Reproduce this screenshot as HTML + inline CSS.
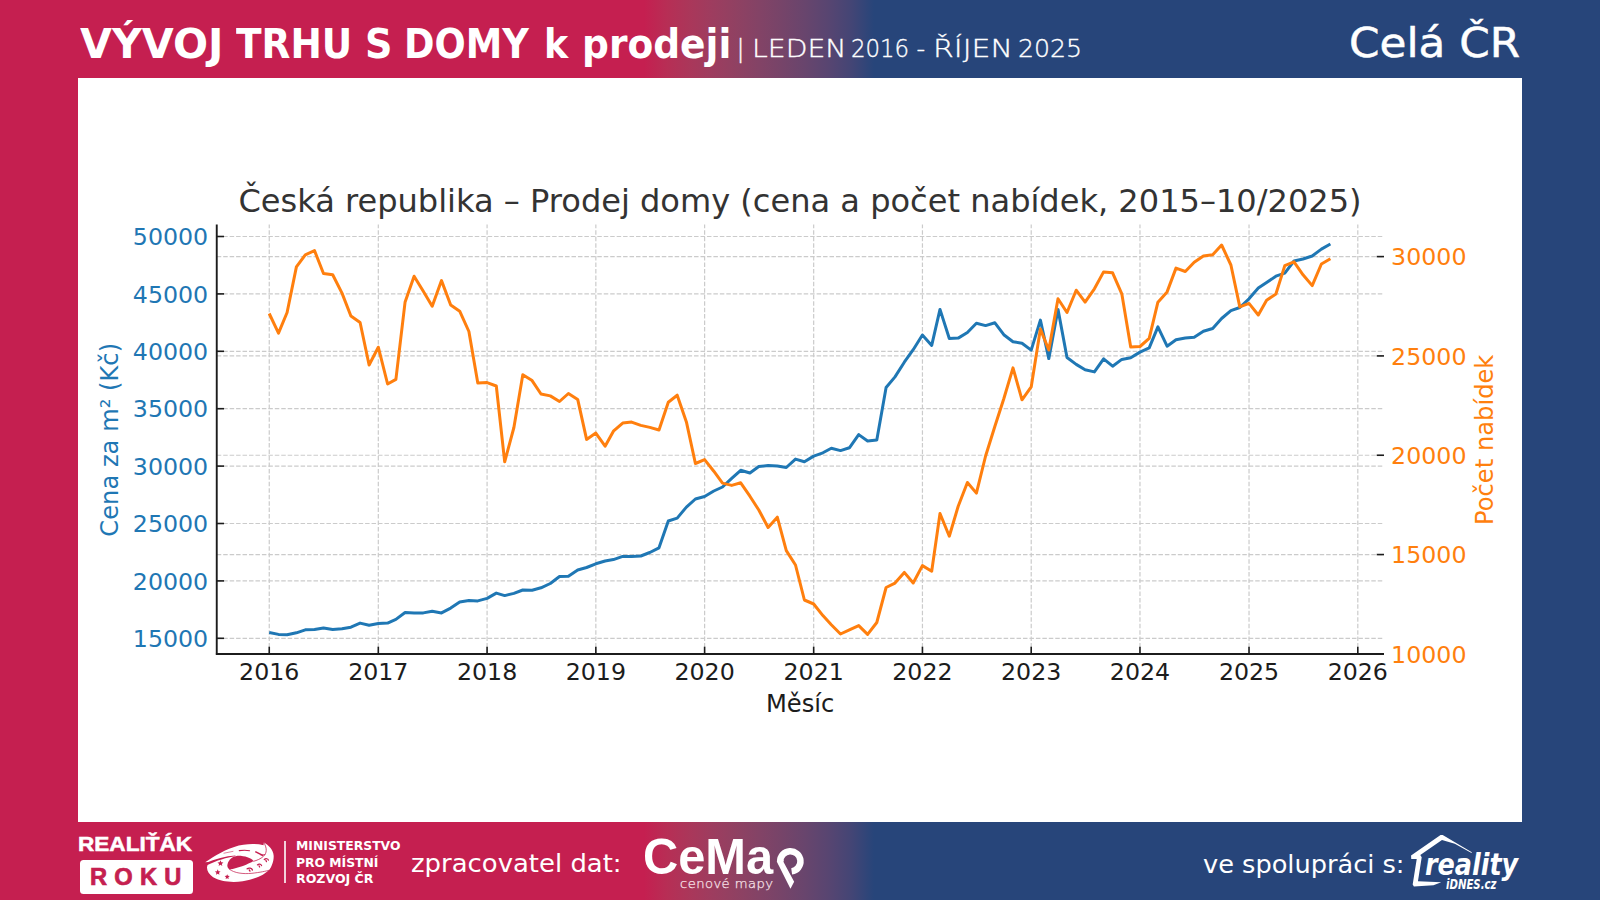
<!DOCTYPE html>
<html lang="cs">
<head>
<meta charset="utf-8">
<title>Vývoj trhu s domy k prodeji – Celá ČR</title>
<style>
html,body{margin:0;padding:0;}
body{width:1600px;height:900px;overflow:hidden;position:relative;
  background:linear-gradient(90deg,#c51f50 0px,#c51f50 644px,#b72e55 667px,#aa375a 690px,#9d3d5f 713px,#904162 736px,#834366 759px,#764469 782px,#68456d 805px,#584571 828px,#444575 851px,#27457a 874px,#27457a 1600px);
  font-family:"Liberation Sans","DejaVu Sans",sans-serif;color:#fff;}
.abs{position:absolute;white-space:nowrap;line-height:1;transform-origin:0 0;}
#panel{position:absolute;left:78px;top:78px;width:1444px;height:744px;background:#fff;}
#chart{position:absolute;left:0;top:0;}
#roku{left:79.5px;top:860px;width:113.5px;height:33.5px;background:#fff;border-radius:3.5px;}
#vline{position:absolute;left:284.4px;top:841px;width:1.5px;height:42px;background:#f3d0da;}
svg.ico{position:absolute;left:0;top:0;overflow:visible;}
</style>
</head>
<body>
<div id="panel"></div>
<svg id="chart" width="1600" height="900" viewBox="0 0 1600 900" font-family="'DejaVu Sans', 'Liberation Sans', sans-serif">
<g stroke="#cbcbcb" stroke-width="1.2" stroke-dasharray="4.5 1.95" fill="none">
<path d="M269.25 654.0 V224.5"/>
<path d="M378.31 654.0 V224.5"/>
<path d="M487.08 654.0 V224.5"/>
<path d="M595.84 654.0 V224.5"/>
<path d="M704.61 654.0 V224.5"/>
<path d="M813.67 654.0 V224.5"/>
<path d="M922.44 654.0 V224.5"/>
<path d="M1031.21 654.0 V224.5"/>
<path d="M1139.97 654.0 V224.5"/>
<path d="M1249.03 654.0 V224.5"/>
<path d="M1357.80 654.0 V224.5"/>
<path d="M216.75 236.50 H1384.0"/>
<path d="M216.75 293.90 H1384.0"/>
<path d="M216.75 351.30 H1384.0"/>
<path d="M216.75 408.70 H1384.0"/>
<path d="M216.75 466.10 H1384.0"/>
<path d="M216.75 523.50 H1384.0"/>
<path d="M216.75 580.90 H1384.0"/>
<path d="M216.75 638.30 H1384.0"/>
<path d="M216.75 256.60 H1384.0"/>
<path d="M216.75 355.92 H1384.0"/>
<path d="M216.75 455.24 H1384.0"/>
<path d="M216.75 554.56 H1384.0"/>
</g>
<polyline points="269.2,632.5 278.5,634.4 287.1,634.8 296.4,632.8 305.3,629.8 314.5,629.4 323.5,627.9 332.7,629.4 342.0,628.8 350.9,627.2 360.1,623.1 369.1,625.2 378.3,623.5 387.6,623.1 395.9,619.4 405.1,612.5 414.1,613.1 423.3,612.9 432.2,611.2 441.5,612.9 450.7,608.1 459.7,602.0 468.9,600.6 477.8,600.9 487.1,598.4 496.3,593.1 504.7,595.6 513.9,593.4 522.8,590.0 532.1,590.2 541.0,587.8 550.3,583.5 559.5,576.5 568.4,576.2 577.7,570.0 586.6,567.5 595.8,563.8 605.1,561.0 613.4,559.6 622.7,556.4 631.6,556.5 640.8,556.0 649.8,552.5 659.0,547.8 668.3,521.0 677.2,518.1 686.4,507.1 695.4,499.0 704.6,496.5 713.8,491.0 722.5,487.0 731.7,478.4 740.7,470.3 749.9,473.0 758.8,466.5 768.1,465.6 777.3,466.0 786.3,467.5 795.5,459.1 804.4,461.8 813.7,456.1 822.9,452.8 831.3,448.2 840.5,450.6 849.4,447.8 858.7,434.6 867.6,441.0 876.8,440.0 886.1,387.5 895.0,376.9 904.3,362.2 913.2,349.7 922.4,335.0 931.7,345.4 940.0,309.4 949.3,338.5 958.2,338.1 967.4,332.5 976.4,323.2 985.6,325.6 994.9,322.8 1003.8,334.7 1013.0,341.8 1022.0,343.2 1031.2,350.1 1040.4,320.1 1048.8,358.6 1058.0,309.4 1067.0,357.5 1076.2,364.4 1085.1,369.8 1094.4,371.9 1103.6,358.8 1112.6,366.2 1121.8,359.4 1130.7,357.8 1140.0,352.1 1149.2,347.8 1157.9,326.9 1167.1,346.2 1176.0,339.8 1185.3,338.1 1194.2,337.2 1203.4,331.2 1212.7,328.5 1221.6,318.5 1230.9,310.6 1239.8,307.5 1249.0,298.8 1258.3,288.1 1266.6,282.5 1275.9,276.2 1284.8,273.1 1294.0,261.0 1303.0,259.0 1312.2,256.0 1321.4,249.1 1330.4,244.0" fill="none" stroke="#1f77b4" stroke-width="3.0" stroke-linejoin="round" stroke-linecap="butt"/>
<polyline points="269.2,313.5 278.5,333.1 287.1,312.5 296.4,266.9 305.3,254.8 314.5,250.6 323.5,273.5 332.7,274.8 342.0,293.1 350.9,316.0 360.1,322.5 369.1,365.0 378.3,347.2 387.6,384.0 395.9,379.4 405.1,301.9 414.1,276.2 423.3,291.2 432.2,306.2 441.5,280.6 450.7,305.0 459.7,311.2 468.9,331.5 477.8,383.1 487.1,382.6 496.3,386.0 504.7,461.8 513.9,427.5 522.8,374.8 532.1,380.6 541.0,394.0 550.3,395.9 559.5,401.5 568.4,393.5 577.7,399.4 586.6,439.4 595.8,433.1 605.1,446.2 613.4,431.2 622.7,423.1 631.6,422.1 640.8,425.4 649.8,427.4 659.0,430.0 668.3,402.2 677.2,395.2 686.4,421.9 695.4,463.5 704.6,459.6 713.8,471.2 722.5,483.1 731.7,485.4 740.7,482.8 749.9,496.2 758.8,510.0 768.1,527.5 777.3,517.2 786.3,550.6 795.5,565.0 804.4,600.0 813.7,604.0 822.9,615.6 831.3,624.8 840.5,634.0 849.4,629.8 858.7,625.6 867.6,634.4 876.8,622.5 886.1,587.5 895.0,583.1 904.3,572.4 913.2,583.0 922.4,565.6 931.7,571.2 940.0,513.5 949.3,536.2 958.2,506.2 967.4,482.5 976.4,493.1 985.6,456.0 994.9,426.2 1003.8,398.8 1013.0,367.9 1022.0,399.8 1031.2,386.9 1040.4,329.1 1048.8,350.0 1058.0,298.8 1067.0,312.5 1076.2,290.2 1085.1,302.1 1094.4,288.8 1103.6,271.9 1112.6,272.8 1121.8,293.8 1130.7,346.9 1140.0,346.5 1149.2,338.4 1157.9,302.2 1167.1,291.9 1176.0,268.1 1185.3,271.5 1194.2,262.2 1203.4,256.0 1212.7,254.8 1221.6,245.0 1230.9,265.0 1239.8,306.9 1249.0,303.4 1258.3,315.0 1266.6,300.2 1275.9,294.0 1284.8,265.6 1294.0,261.9 1303.0,274.8 1312.2,285.6 1321.4,264.0 1330.4,258.8" fill="none" stroke="#ff7f0e" stroke-width="3.0" stroke-linejoin="round" stroke-linecap="butt"/>
<g stroke="#1c1c1c" stroke-width="1.9" fill="none">
<path d="M216.75 224.5 V654.85"/>
<path d="M215.9 654.0 H1384.0"/>
</g>
<g stroke="#1c1c1c" stroke-width="1.6" fill="none">
<path d="M269.25 654.0 v-7.3"/>
<path d="M378.31 654.0 v-7.3"/>
<path d="M487.08 654.0 v-7.3"/>
<path d="M595.84 654.0 v-7.3"/>
<path d="M704.61 654.0 v-7.3"/>
<path d="M813.67 654.0 v-7.3"/>
<path d="M922.44 654.0 v-7.3"/>
<path d="M1031.21 654.0 v-7.3"/>
<path d="M1139.97 654.0 v-7.3"/>
<path d="M1249.03 654.0 v-7.3"/>
<path d="M1357.80 654.0 v-7.3"/>
<path d="M216.75 236.50 h7.3"/>
<path d="M216.75 293.90 h7.3"/>
<path d="M216.75 351.30 h7.3"/>
<path d="M216.75 408.70 h7.3"/>
<path d="M216.75 466.10 h7.3"/>
<path d="M216.75 523.50 h7.3"/>
<path d="M216.75 580.90 h7.3"/>
<path d="M216.75 638.30 h7.3"/>
<path d="M1384.0 256.60 h-7.3"/>
<path d="M1384.0 355.92 h-7.3"/>
<path d="M1384.0 455.24 h-7.3"/>
<path d="M1384.0 554.56 h-7.3"/>
<path d="M1384.0 653.88 h-7.3"/>
</g>
<g font-size="23.7" fill="#1f77b4" text-anchor="end">
<text x="208.2" y="245.20">50000</text>
<text x="208.2" y="302.60">45000</text>
<text x="208.2" y="360.00">40000</text>
<text x="208.2" y="417.40">35000</text>
<text x="208.2" y="474.80">30000</text>
<text x="208.2" y="532.20">25000</text>
<text x="208.2" y="589.60">20000</text>
<text x="208.2" y="647.00">15000</text>
</g>
<g font-size="23.7" fill="#ff7f0e" text-anchor="start">
<text x="1391.1" y="265.30">30000</text>
<text x="1391.1" y="364.62">25000</text>
<text x="1391.1" y="463.94">20000</text>
<text x="1391.1" y="563.26">15000</text>
<text x="1391.1" y="662.58">10000</text>
</g>
<g font-size="23.7" fill="#1c1c1c" text-anchor="middle">
<text x="269.25" y="679.6">2016</text>
<text x="378.31" y="679.6">2017</text>
<text x="487.08" y="679.6">2018</text>
<text x="595.84" y="679.6">2019</text>
<text x="704.61" y="679.6">2020</text>
<text x="813.67" y="679.6">2021</text>
<text x="922.44" y="679.6">2022</text>
<text x="1031.21" y="679.6">2023</text>
<text x="1139.97" y="679.6">2024</text>
<text x="1249.03" y="679.6">2025</text>
<text x="1357.80" y="679.6">2026</text>
<text x="800.2" y="711.5" font-size="24.2">Měsíc</text>
</g>
<text font-size="24.2" fill="#1f77b4" text-anchor="middle" transform="translate(118.2 439.8) rotate(-90)">Cena za m² (Kč)</text>
<text font-size="24.2" fill="#ff7f0e" text-anchor="middle" transform="translate(1493.2 439.8) rotate(-90)">Počet nabídek</text>
<text font-size="32.05" fill="#333" text-anchor="middle" x="800" y="212.4">Česká republika – Prodej domy (cena a počet nabídek, 2015–10/2025)</text>
</svg>
<div id="roku" class="abs"></div>
<div id="vline"></div>
<div id="title">
<div id="t1" class="abs" style="left:80.20px;top:22.80px;font-family:'DejaVu Sans Condensed','DejaVu Sans','Liberation Sans',sans-serif;font-weight:700;font-style:normal;font-size:41.7px;transform:scaleX(1.1009);">VÝVOJ</div>
<div id="t2" class="abs" style="left:236.40px;top:22.80px;font-family:'DejaVu Sans Condensed','DejaVu Sans','Liberation Sans',sans-serif;font-weight:700;font-style:normal;font-size:41.7px;transform:scaleX(0.9986);">TRHU</div>
<div id="t3" class="abs" style="left:365.47px;top:22.80px;font-family:'DejaVu Sans Condensed','DejaVu Sans','Liberation Sans',sans-serif;font-weight:700;font-style:normal;font-size:41.7px;transform:scaleX(1.0174);">S</div>
<div id="t4" class="abs" style="left:404.47px;top:22.80px;font-family:'DejaVu Sans Condensed','DejaVu Sans','Liberation Sans',sans-serif;font-weight:700;font-style:normal;font-size:41.7px;transform:scaleX(0.9781);">DOMY</div>
<div id="t5" class="abs" style="left:543.69px;top:22.80px;font-family:'DejaVu Sans Condensed','DejaVu Sans','Liberation Sans',sans-serif;font-weight:700;font-style:normal;font-size:41.7px;transform:scaleX(0.9696);">k</div>
<div id="t6" class="abs" style="left:581.90px;top:22.80px;font-family:'DejaVu Sans Condensed','DejaVu Sans','Liberation Sans',sans-serif;font-weight:700;font-style:normal;font-size:41.7px;transform:scaleX(1.0010);">prodeji</div>
</div>
<div id="sub">
<div id="s0" class="abs" style="left:736.40px;top:36.50px;font-family:'DejaVu Sans','Liberation Sans',sans-serif;font-weight:200;font-style:normal;font-size:24.0px;transform:scaleX(1.0000);-webkit-text-stroke:0.35px #fff;">|</div>
<div id="s1" class="abs" style="left:751.54px;top:36.50px;font-family:'DejaVu Sans','Liberation Sans',sans-serif;font-weight:200;font-style:normal;font-size:24.0px;transform:scaleX(1.1785);-webkit-text-stroke:0.35px #fff;">LEDEN</div>
<div id="s2" class="abs" style="left:850.75px;top:36.50px;font-family:'DejaVu Sans','Liberation Sans',sans-serif;font-weight:200;font-style:normal;font-size:24.0px;transform:scaleX(0.9522);-webkit-text-stroke:0.35px #fff;">2016</div>
<div id="s3" class="abs" style="left:916.40px;top:36.50px;font-family:'DejaVu Sans','Liberation Sans',sans-serif;font-weight:200;font-style:normal;font-size:24.0px;transform:scaleX(1.0000);-webkit-text-stroke:0.35px #fff;">-</div>
<div id="s4" class="abs" style="left:932.90px;top:36.50px;font-family:'DejaVu Sans','Liberation Sans',sans-serif;font-weight:200;font-style:normal;font-size:24.0px;transform:scaleX(1.2475);-webkit-text-stroke:0.35px #fff;">ŘÍJEN</div>
<div id="s5" class="abs" style="left:1017.65px;top:36.50px;font-family:'DejaVu Sans','Liberation Sans',sans-serif;font-weight:200;font-style:normal;font-size:24.0px;transform:scaleX(1.0483);-webkit-text-stroke:0.35px #fff;">2025</div>
</div>
<div id="region" class="abs" style="left:1348.50px;top:22.40px;font-family:'DejaVu Sans','Liberation Sans',sans-serif;font-weight:400;font-style:normal;font-size:41.6px;transform:scaleX(1.0504);-webkit-text-stroke:0.5px #fff;">Celá ČR</div>
<div id="realitak" class="abs" style="left:77.86px;top:835.10px;font-family:'Liberation Sans','DejaVu Sans',sans-serif;font-weight:700;font-style:normal;font-size:19.8px;transform:scaleX(1.1413);-webkit-text-stroke:0.5px #fff;">REALIŤÁK</div>
<div id="rokut" class="abs" style="left:90.27px;top:865.80px;font-family:'Liberation Sans','DejaVu Sans',sans-serif;font-weight:700;font-style:normal;font-size:23.0px;transform:scaleX(1.0297);letter-spacing:7.0px;color:#c51f50;-webkit-text-stroke:0.7px #c51f50;">ROKU</div>
<div id="mmr">
<div id="m1" class="abs" style="left:295.78px;top:840.40px;font-family:'DejaVu Sans','Liberation Sans',sans-serif;font-weight:700;font-style:normal;font-size:12.1px;transform:scaleX(1.0239);">MINISTERSTVO</div>
<div id="m2" class="abs" style="left:295.78px;top:856.50px;font-family:'DejaVu Sans','Liberation Sans',sans-serif;font-weight:700;font-style:normal;font-size:12.1px;transform:scaleX(1.0201);">PRO MÍSTNÍ</div>
<div id="m3" class="abs" style="left:295.76px;top:872.50px;font-family:'DejaVu Sans','Liberation Sans',sans-serif;font-weight:700;font-style:normal;font-size:12.1px;transform:scaleX(1.0366);">ROZVOJ ČR</div>
</div>
<div id="zprac" class="abs" style="left:411.35px;top:852.30px;font-family:'DejaVu Sans','Liberation Sans',sans-serif;font-weight:400;font-style:normal;font-size:24.7px;transform:scaleX(1.0493);">zpracovatel dat:</div>
<div id="cemap" class="abs" style="left:643.02px;top:832.40px;font-family:'Liberation Sans','DejaVu Sans',sans-serif;font-weight:700;font-style:normal;font-size:49.2px;transform:scaleX(0.9919);">CeMa</div>
<div id="cenove" class="abs" style="left:680.00px;top:877.60px;font-family:'DejaVu Sans','Liberation Sans',sans-serif;font-weight:200;font-style:normal;font-size:12.6px;transform:scaleX(1.0447);letter-spacing:0.4px;color:#f8e2e9;-webkit-text-stroke:0.25px #f8e2e9;">cenové mapy</div>
<div id="spol" class="abs" style="left:1202.50px;top:852.60px;font-family:'DejaVu Sans','Liberation Sans',sans-serif;font-weight:400;font-style:normal;font-size:24.7px;transform:scaleX(1.0376);">ve spolupráci s:</div>
<div id="reality" class="abs" style="left:1425.40px;top:848.90px;font-family:'DejaVu Sans Condensed','DejaVu Sans','Liberation Sans',sans-serif;font-weight:700;font-style:italic;font-size:30.8px;transform:scaleX(0.9179);">reality</div>
<div id="idnes" class="abs" style="left:1446.40px;top:876.90px;font-family:'DejaVu Sans Condensed','DejaVu Sans','Liberation Sans',sans-serif;font-weight:700;font-style:italic;font-size:14.0px;transform:scaleX(0.8064);">iDNES.cz</div>
<svg class="ico" width="1600" height="900" viewBox="0 0 1600 900">
<!-- MMR swirl logo -->
<g transform="translate(200 835) scale(0.06109)">
  <path fill="#fff" d="M85,447 C180,385 330,270 560,195 C720,145 900,135 1040,167 L1045,122 C1120,160 1200,240 1206,340 C1209,430 1172,520 1132,573 C1050,652 900,727 700,757 C520,782 330,762 215,692 C140,642 103,570 118,510 C124,482 140,462 168,442 Z"/>
  <path fill="#c51f50" d="M447,500 C450,425 520,352 600,342 C720,336 830,372 876,426 C800,472 620,547 482,566 C456,546 447,522 447,500 Z"/>
  <g fill="none" stroke="#c51f50" stroke-linecap="round">
    <path stroke="none" fill="#c51f50" d="M84,462 C250,390 420,346 580,336 L580,346 C440,362 270,418 122,492 Z"/>
    <path stroke-width="13" d="M1050,132 C1102,222 1092,300 1042,346 C992,392 932,416 878,430"/>
    <path stroke-width="12" d="M484,562 C560,622 700,642 850,627 C980,612 1080,592 1128,578"/>
    <path stroke-width="9" d="M392,298 L540,268"/>
    <path stroke-width="17" d="M642,256 C700,248 760,248 812,256"/>
    <path stroke-width="26" stroke-linecap="butt" d="M905,272 L1035,338"/>
    <path stroke-width="12" d="M1000,332 L1062,318"/>
    <path stroke-width="20" d="M1052,402 C1075,380 1112,385 1120,412 M1078,415 L1088,436"/>
    <path stroke-width="20" d="M940,490 C962,468 1000,474 1008,502 M966,504 L976,524"/>
    <path stroke-width="22" d="M772,554 C800,532 848,542 858,574 M806,572 L818,592"/>
  </g>
  <g fill="#c51f50">
    <path d="M335,414 l14,32 35,4 -27,23 8,35 -30,-19 -30,19 8,-35 -27,-23 35,-4z"/>
    <path d="M290,561 l13,31 34,4 -26,22 8,34 -29,-18 -29,18 8,-34 -26,-22 34,-4z"/>
    <path d="M445,641 l12,28 30,3 -23,20 7,30 -26,-16 -26,16 7,-30 -23,-20 30,-3z"/>
  </g>
</g>
<!-- CeMap pin (letter p) -->
<g transform="translate(740 835) scale(0.066667)" fill="#fff">
  <path fill="none" stroke="#fff" stroke-width="97" d="M774.8,545.7 A152,152 0 1 0 603,400"/>
  <path d="M555.5,372 L553,400 L757,808 L812,700 L651,400 L652.5,372 Z"/>
</g>
<!-- reality house -->
<g transform="translate(1405 828) scale(0.07111)" fill="#fff">
  <path d="M85,388 L500,97 L530,97 L940,342 L935,352 L700,222 L520,170 L215,378 L235,410 L182,748 L510,762 L400,805 L125,822 L108,795 L165,437 L88,437 Z"/>
</g>

</svg>
</body>
</html>
